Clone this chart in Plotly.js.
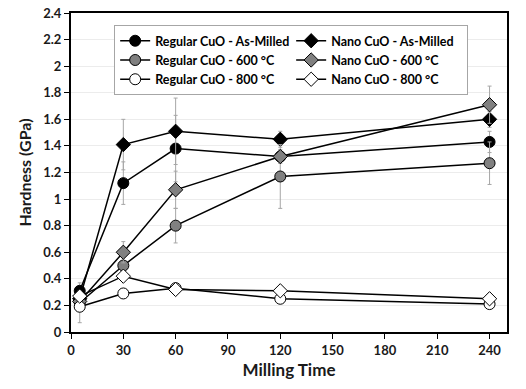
<!DOCTYPE html>
<html>
<head>
<meta charset="utf-8">
<script src="https://cdn.plot.ly/plotly-3.0.1.min.js"></script>
<style>
  html, body { margin: 0; padding: 0; background: #fff; }
  #chart { width: 526px; height: 389px; }
</style>
</head>
<body>
<div id="chart"></div>
<script>
// Milling time (min) and hardness (GPa)
const millingTime = [5, 30, 60, 120, 240];

const regularAsMilled = [0.31, 1.12, 1.38, 1.32, 1.43];
const nanoAsMilled = [0.25, 1.41, 1.51, 1.45, 1.60];
const regular600 = [0.22, 0.50, 0.80, 1.17, 1.27];
const nano600 = [0.23, 0.60, 1.07, 1.32, 1.71];
const regular800 = [0.19, 0.29, 0.33, 0.25, 0.21];
const nano800 = [0.27, 0.42, 0.32, 0.31, 0.25];

// error bar half-widths
const regularAsMilledErr = [0.06, 0.16, 0.25, 0.05, 0.08];
const nanoAsMilledErr = [0.05, 0.19, 0.25, 0.06, 0.06];
const regular600Err = [0.05, 0.08, 0.13, 0.24, 0.16];
const nano600Err = [0.04, 0.08, 0.14, 0.05, 0.14];
const regular800Err = [0.12, 0.03, 0.02, 0.02, 0.02];
const nano800Err = [0.03, 0.02, 0.02, 0.02, 0.02];

const xTicks = [0, 30, 60, 90, 120, 150, 180, 210, 240];

const font = 'Lato, "Open Sans", sans-serif';

function series(name, y, err, symbol, fill) {
    return {
        x: millingTime,
        y: y,
        name: name,
        type: 'scatter',
        mode: 'lines+markers',
        line: { color: '#000000', width: 1.5 },
        marker: {
            symbol: symbol,
            size: 11,
            color: fill,
            line: { color: '#000000', width: 1 }
        },
        error_y: {
            type: 'data',
            array: err,
            visible: true,
            color: '#a6a6a6',
            thickness: 1,
            width: 2
        }
    };
}

const traces = [
    series('Regular CuO - As-Milled', regularAsMilled, regularAsMilledErr, 'circle', '#000000'),
    series('Nano CuO - As-Milled', nanoAsMilled, nanoAsMilledErr, 'diamond', '#000000'),
    series('Regular CuO - 600 °C', regular600, regular600Err, 'circle', '#808080'),
    series('Nano CuO - 600 °C', nano600, nano600Err, 'diamond', '#808080'),
    series('Regular CuO - 800 °C', regular800, regular800Err, 'circle', '#ffffff'),
    series('Nano CuO - 800 °C', nano800, nano800Err, 'diamond', '#ffffff')
];

const layout = {
    width: 526,
    height: 389,
    margin: { l: 71, r: 19, t: 13, b: 57 },
    paper_bgcolor: '#ffffff',
    plot_bgcolor: '#ffffff',
    font: { family: font, size: 12, color: '#262626', weight: 'bold' },
    showlegend: true,
    legend: {
        orientation: 'h',
        x: 0.099,
        y: 0.962,
        xanchor: 'left',
        yanchor: 'top',
        entrywidth: 131,
        entrywidthmode: 'pixels',
        bgcolor: '#ffffff',
        bordercolor: '#a6a6a6',
        borderwidth: 1,
        itemwidth: 30,
        font: { family: font, size: 12.5, color: '#000000', weight: 'bold' }
    },
    xaxis: {
        range: [0, 250],
        tickvals: xTicks,
        ticks: 'outside',
        ticklen: 5,
        tickcolor: '#000000',
        showline: true,
        linecolor: '#000000',
        linewidth: 2,
        mirror: true,
        showgrid: false,
        zeroline: false,
        tickfont: { family: font, size: 13, color: '#1a1a1a', weight: 'bold' },
        title: { text: 'Milling Time', font: { family: font, size: 17, color: '#1a1a1a', weight: 'bold' }, standoff: 8 }
    },
    yaxis: {
        range: [0, 2.4],
        dtick: 0.2,
        ticks: 'outside',
        ticklen: 5,
        tickcolor: '#000000',
        showline: true,
        linecolor: '#000000',
        linewidth: 2,
        mirror: true,
        showgrid: true,
        gridcolor: '#ececec',
        gridwidth: 1,
        zeroline: false,
        tickfont: { family: font, size: 13, color: '#1a1a1a', weight: 'bold' },
        title: { text: 'Hardness (GPa)', font: { family: font, size: 16, color: '#1a1a1a', weight: 'bold' }, standoff: 8 }
    }
};

Plotly.newPlot('chart', traces, layout, { displayModeBar: false, staticPlot: true });
</script>
</body>
</html>
